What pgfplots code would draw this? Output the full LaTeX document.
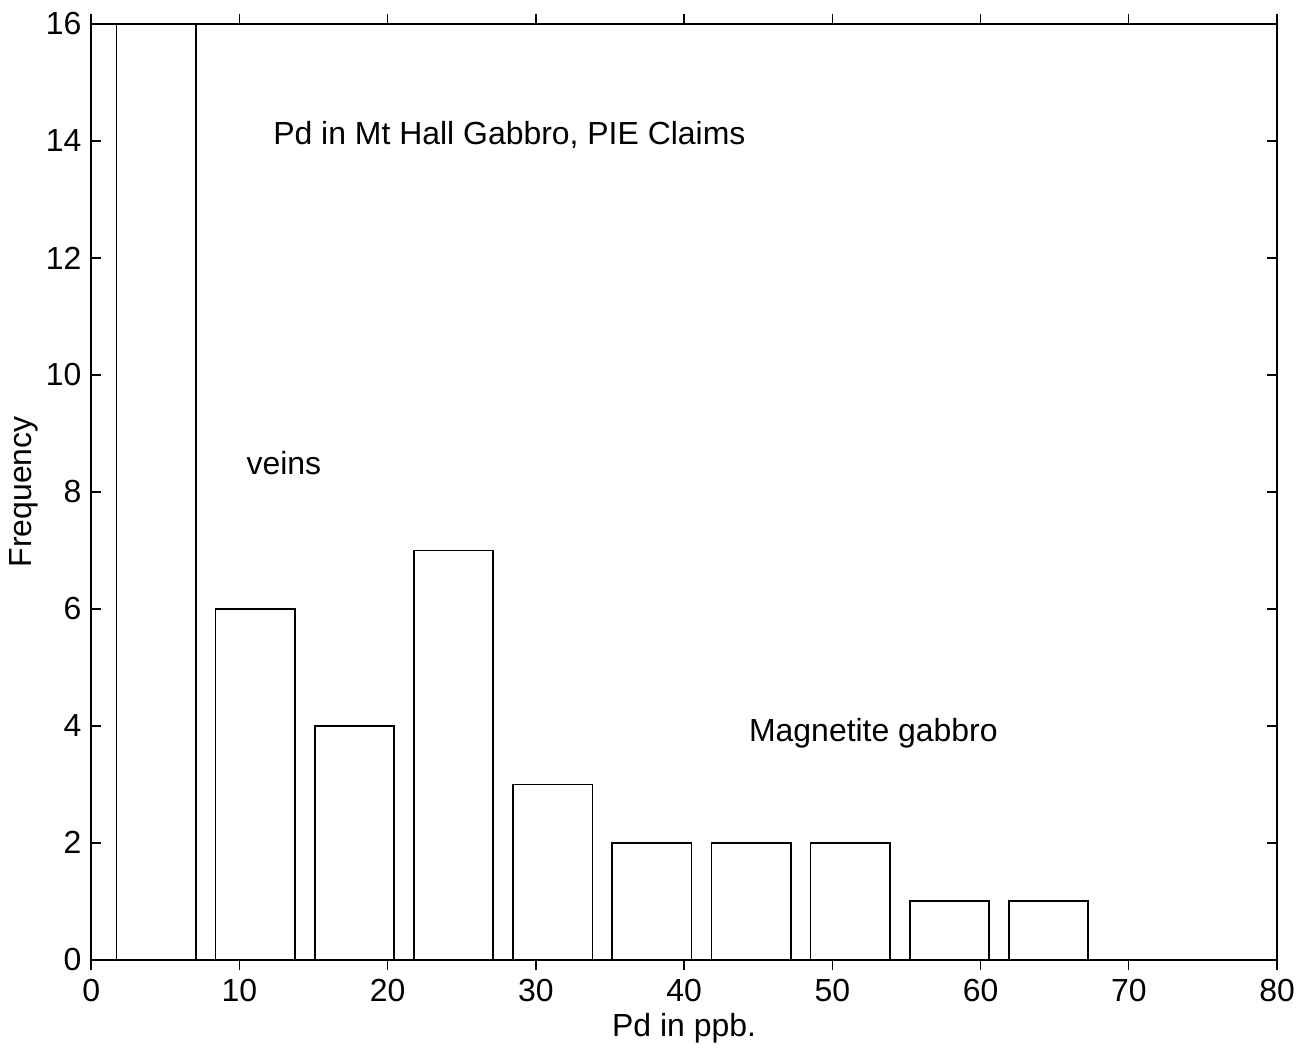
\documentclass[border=0pt]{standalone}
\usepackage{pgfplots}
\pgfplotsset{compat=1.18}
\usepackage{fontspec}
\setmainfont{Liberation Sans}
\begin{document}
\begin{tikzpicture}
\begin{axis}[
  scale only axis,
  width=427pt, height=337pt,
  xmin=0, xmax=80, ymin=0, ymax=16,
  xtick={0,10,...,80}, ytick={0,2,...,16},
  tick align=inside, major tick length=3.6pt,
  tick style={black, line width=0.5pt},
  axis line style={line width=0.6pt},
  /pgf/number format/assume math mode=true,
  tick label style={font=\fontsize{11.5}{13.5}\selectfont},
  label style={font=\fontsize{11.5}{13.5}\selectfont},
  xlabel={Pd in ppb.}, ylabel={Frequency},
  xlabel style={yshift=3pt},
  ylabel style={yshift=-4pt},
  ybar, bar width=5.35, bar shift=0pt,
  clip=true,
]
\addplot[draw=black, fill=none, line width=0.6pt] coordinates {
 (4.38,30) (11.07,6) (17.76,4) (24.45,7) (31.14,3) (37.83,2)
 (44.52,2) (51.21,2) (57.90,1) (64.59,1) (71.28,0) (77.97,0)
};
\node[anchor=west, inner sep=0pt, font=\fontsize{11.5}{13.5}\selectfont] at (axis cs:12.25,14.1) {Pd in Mt Hall Gabbro, PIE Claims};
\node[anchor=west, inner sep=0pt, font=\fontsize{11.5}{13.5}\selectfont] at (axis cs:10.45,8.5) {veins};
\node[anchor=west, inner sep=0pt, font=\fontsize{11.5}{13.5}\selectfont] at (axis cs:44.35,3.88) {Magnetite gabbro};
\end{axis}
\path (current axis.south west) ++(-32pt,-31.6pt) coordinate (bl);
\path (current axis.north east) ++(10.8pt,8.6pt) coordinate (tr);
\useasboundingbox (bl) rectangle (tr);
\end{tikzpicture}
\end{document}
